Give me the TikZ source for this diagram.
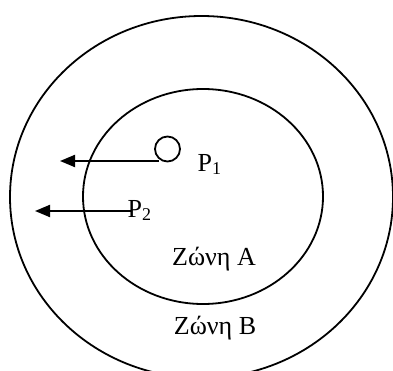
\documentclass[tikz,border=0pt]{standalone}
\usepackage{fontspec}
\setmainfont{Liberation Serif}
\usetikzlibrary{shapes.geometric,arrows.meta}
\tikzset{
  zone/.style={draw, ellipse, line width=1.8pt, inner sep=0pt},
  pt/.style={draw, circle, line width=1.8pt, inner sep=0pt, minimum size=25pt},
  mover/.style={line width=2pt, -{Triangle[length=15pt,width=12pt]}},
  lbl/.style={font=\fontsize{26}{28}\selectfont, inner sep=0pt}
}
\newcommand{\subidx}[1]{\raisebox{-0.22ex}{\fontsize{18}{20}\selectfont #1}}
\begin{document}
\begin{tikzpicture}[x=1pt,y=-1pt]
\useasboundingbox (0,0) rectangle (393,371);
\clip (0,0) rectangle (393,371);
\node[zone, minimum width=383pt, minimum height=362pt] (outer) at (201.5,197) {};
\node[zone, minimum width=240pt, minimum height=215pt] (inner) at (203,196.5) {};
\node[pt] (p1c) at (167.5,149) {};
\node[lbl, anchor=base west] (p1) at (197.5,171.5) {P\subidx{1}};
\node[lbl, anchor=base west] (p2) at (127.5,218) {P\subidx{2}};
\coordinate (tip1) at (60,161);
\coordinate (tip2) at (35,211);
\draw[mover] (p1c.228 |- tip1) -- (tip1);
\draw[mover] (p2.west |- tip2) ++(3pt,0) -- (tip2);
\node[lbl, anchor=base] (za) at (214,265.5) {Ζώνη A};
\node[lbl, anchor=base] (zb) at (215,334.5) {Ζώνη B};
\end{tikzpicture}
\end{document}
